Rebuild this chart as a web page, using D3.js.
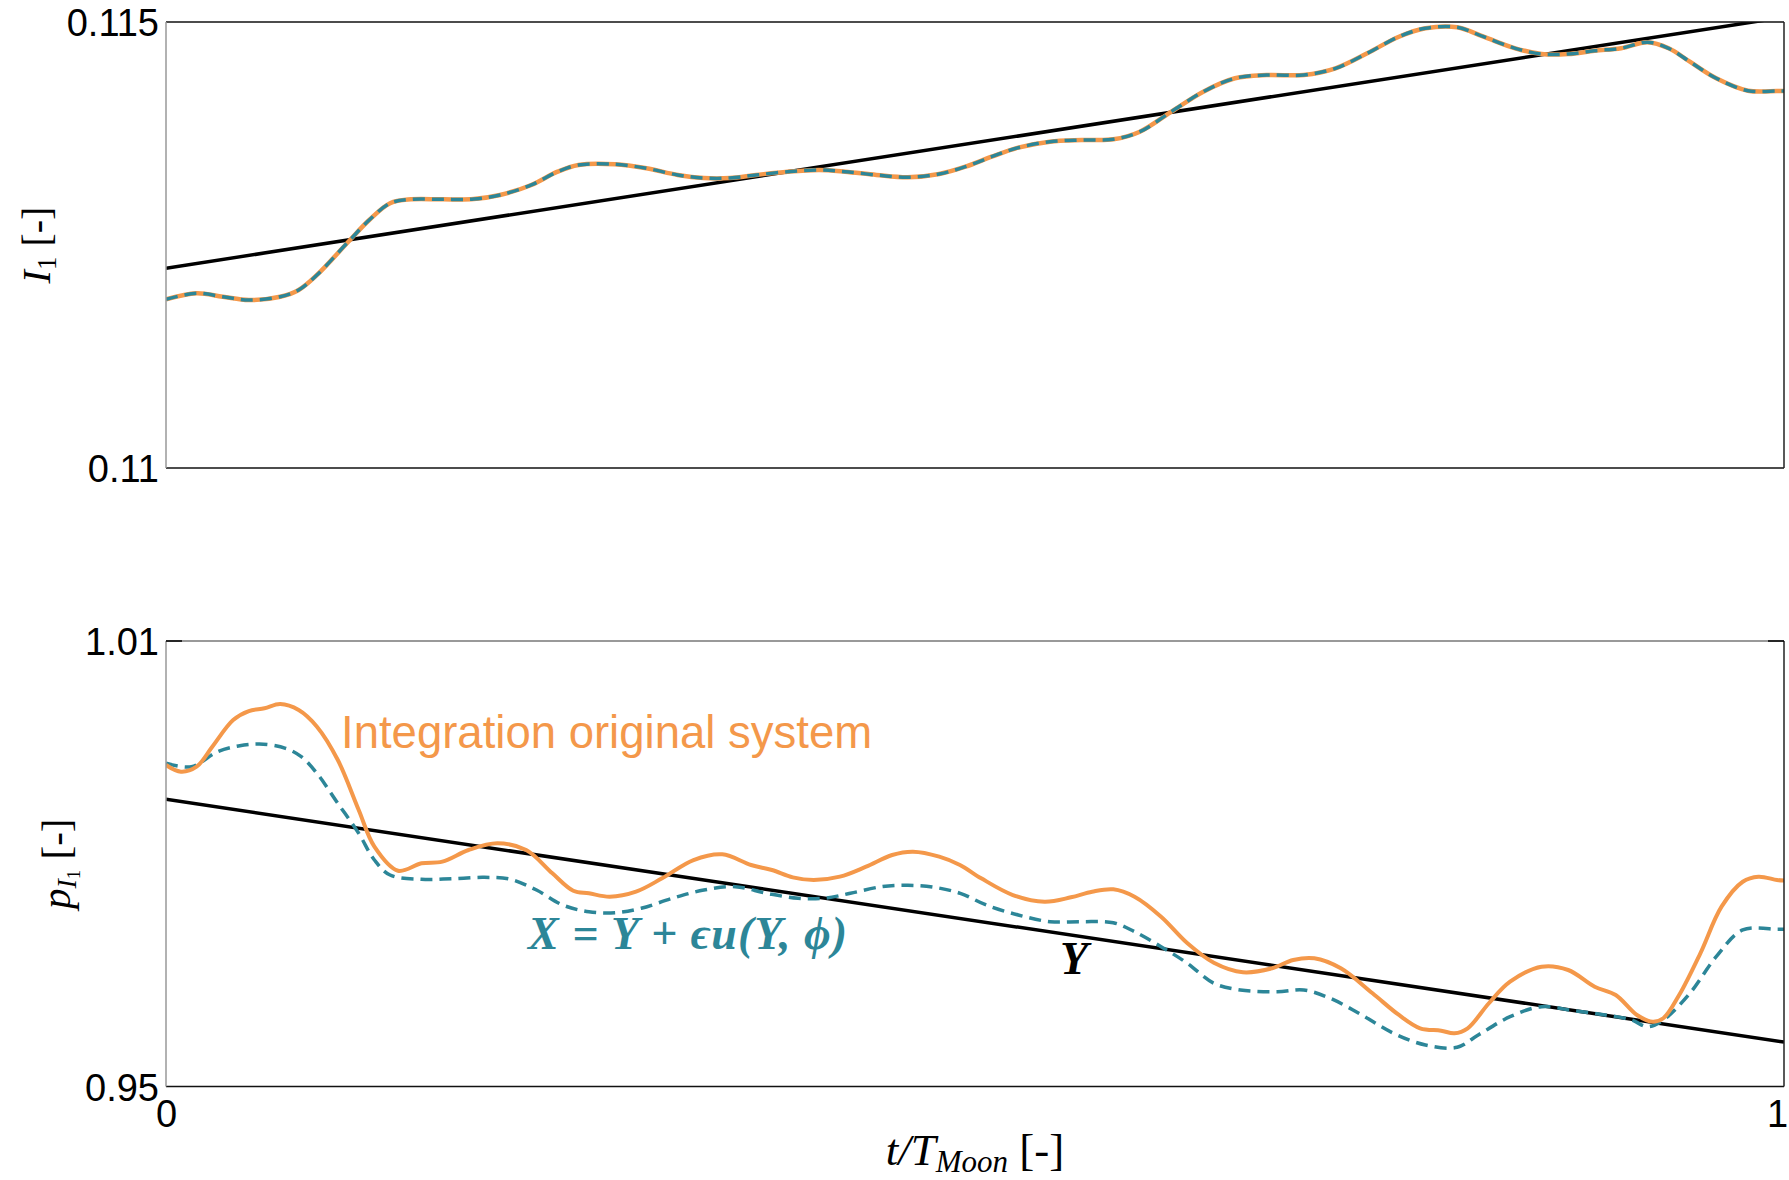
<!DOCTYPE html>
<html>
<head>
<meta charset="utf-8">
<script src="https://cdn.jsdelivr.net/npm/d3@7"></script>
<style>
  html, body { margin: 0; padding: 0; background: #fff; }
  svg { display: block; }
</style>
</head>
<body>
<svg id="chart" width="1789" height="1180"></svg>
<script>
// ---------------- DATA ----------------
// x values: t / T_Moon
const xTicks = [0, 1];
const xTickLabels = ["0", "1"];

// Top panel: I_1
const topYTicks = [0.11, 0.115];
const topYTickLabels = ["0.11", "0.115"];
const topYLine_t = [0, 1];
const topYLine_v = [0.112239, 0.115054];
// Integration original system and X = Y + eps u(Y,phi) coincide in the top panel
const topX_t = [0, 0.0189, 0.0351, 0.0512, 0.0706, 0.0820, 0.0933, 0.1127, 0.1256, 0.1385, 0.1514, 0.1708,
  0.1902, 0.2064, 0.2258, 0.2420, 0.2549, 0.2775, 0.2969, 0.3163, 0.3324, 0.3486, 0.3648, 0.3842, 0.4036,
  0.4197, 0.4391, 0.4585, 0.4779, 0.4941, 0.5103, 0.5267, 0.5463, 0.5659, 0.5855, 0.6019, 0.6214, 0.6411,
  0.6607, 0.6803, 0.7032, 0.7228, 0.7424, 0.7620, 0.7784, 0.7980, 0.8143, 0.8339, 0.8502, 0.8666, 0.8829,
  0.8993, 0.9156, 0.9287, 0.9418, 0.9581, 0.9777, 0.9957, 1.0];
const topX_v = [0.111891, 0.111959, 0.111920, 0.111883, 0.111920, 0.111996, 0.112164, 0.112537, 0.112780,
  0.112968, 0.113012, 0.113012, 0.113016, 0.113061, 0.113173, 0.113322, 0.113397, 0.113405, 0.113360,
  0.113285, 0.113251, 0.113251, 0.113285, 0.113322, 0.113341, 0.113322, 0.113285, 0.113259, 0.113296,
  0.113378, 0.113490, 0.113591, 0.113658, 0.113677, 0.113685, 0.113770, 0.113995, 0.114219, 0.114369,
  0.114406, 0.114406, 0.114481, 0.114649, 0.114835, 0.114930, 0.114941, 0.114835, 0.114705, 0.114641,
  0.114641, 0.114678, 0.114705, 0.114773, 0.114705, 0.114555, 0.114369, 0.114230, 0.114227, 0.114227];

// Bottom panel: p_{I_1}
const botYTicks = [0.95, 1.01];
const botYTickLabels = ["0.95", "1.01"];
const botYLine_t = [0, 1];
const botYLine_v = [0.98868, 0.95598];

const botOrange_t = [0, 0.0092, 0.0189, 0.0286, 0.0415, 0.0512, 0.0609, 0.0706, 0.0820, 0.0933, 0.1062,
  0.1191, 0.1288, 0.1434, 0.1579, 0.1708, 0.1870, 0.2048, 0.2226, 0.2388, 0.2517, 0.2614, 0.2743, 0.2905,
  0.3066, 0.3260, 0.3438, 0.3616, 0.3745, 0.3874, 0.4003, 0.4165, 0.4327, 0.4488, 0.4617, 0.4779, 0.4907,
  0.5038, 0.5234, 0.5430, 0.5593, 0.5724, 0.5855, 0.5986, 0.6150, 0.6313, 0.6476, 0.6656, 0.6836, 0.6967,
  0.7097, 0.7261, 0.7457, 0.7620, 0.7751, 0.7881, 0.7963, 0.8045, 0.8176, 0.8307, 0.8502, 0.8666, 0.8830,
  0.8960, 0.9091, 0.9189, 0.9254, 0.9352, 0.9483, 0.9614, 0.9745, 0.9842, 0.9957, 1.0];
const botOrange_v = [0.99330, 0.99240, 0.99307, 0.99576, 0.99936, 1.00057, 1.00094, 1.00151, 1.00071,
  0.99846, 0.99397, 0.98724, 0.98230, 0.97906, 0.98006, 0.98028, 0.98185, 0.98275, 0.98185, 0.97871,
  0.97637, 0.97602, 0.97556, 0.97624, 0.97804, 0.98050, 0.98127, 0.97983, 0.97916, 0.97817, 0.97781,
  0.97826, 0.97960, 0.98118, 0.98162, 0.98095, 0.97983, 0.97804, 0.97579, 0.97489, 0.97548, 0.97624,
  0.97656, 0.97556, 0.97287, 0.96929, 0.96667, 0.96538, 0.96592, 0.96704, 0.96727, 0.96592, 0.96255,
  0.95963, 0.95784, 0.95752, 0.95716, 0.95784, 0.96121, 0.96411, 0.96613, 0.96569, 0.96344, 0.96232,
  0.95963, 0.95873, 0.95919, 0.96232, 0.96794, 0.97422, 0.97758, 0.97826, 0.97781, 0.97775];

const botTeal_t = [0, 0.0157, 0.0318, 0.0448, 0.0577, 0.0739, 0.0836, 0.0933, 0.1062, 0.1191, 0.1288,
  0.1385, 0.1579, 0.1773, 0.1967, 0.2129, 0.2290, 0.2452, 0.2614, 0.2775, 0.2937, 0.3130, 0.3324, 0.3519,
  0.3713, 0.3906, 0.4068, 0.4230, 0.4423, 0.4585, 0.4747, 0.4909, 0.5070, 0.5267, 0.5463, 0.5659, 0.5855,
  0.5986, 0.6150, 0.6313, 0.6476, 0.6640, 0.6868, 0.7032, 0.7195, 0.7391, 0.7587, 0.7784, 0.7980, 0.8110,
  0.8307, 0.8502, 0.8698, 0.8894, 0.9058, 0.9156, 0.9254, 0.9418, 0.9581, 0.9745, 0.9957, 1.0];
const botTeal_v = [0.99353, 0.99307, 0.99509, 0.99586, 0.99613, 0.99555, 0.99442, 0.99218, 0.98814,
  0.98410, 0.98050, 0.97848, 0.97791, 0.97799, 0.97817, 0.97791, 0.97646, 0.97444, 0.97354, 0.97341,
  0.97400, 0.97535, 0.97646, 0.97691, 0.97602, 0.97535, 0.97535, 0.97602, 0.97691, 0.97710, 0.97683,
  0.97602, 0.97444, 0.97310, 0.97220, 0.97220, 0.97206, 0.97085, 0.96883, 0.96659, 0.96390, 0.96300,
  0.96277, 0.96300, 0.96188, 0.95963, 0.95716, 0.95559, 0.95528, 0.95694, 0.95940, 0.96075, 0.96021,
  0.95963, 0.95896, 0.95805, 0.95896, 0.96255, 0.96748, 0.97108, 0.97117, 0.97117];

// ---------------- STYLE / LAYOUT ----------------
const ORANGE = "#F4984A";
const TEAL = "#2C8698";
const left = 166, right = 1784;
const topPanel = { y0: 22, y1: 468 };
const botPanel = { y0: 641, y1: 1086.5 };

const svg = d3.select("#chart");
const x = d3.scaleLinear().domain([0, 1]).range([left, right]);
const yTop = d3.scaleLinear().domain([0.11, 0.115]).range([topPanel.y1, topPanel.y0]);
const yBot = d3.scaleLinear().domain([0.95, 1.01]).range([botPanel.y1, botPanel.y0]);

const zip = (ts, vs) => ts.map((t, i) => [t, vs[i]]);

const defs = svg.append("defs");
function clip(id, p) {
  defs.append("clipPath").attr("id", id).append("rect")
    .attr("x", left).attr("y", p.y0).attr("width", right - left).attr("height", p.y1 - p.y0);
}
clip("clipTop", topPanel);
clip("clipBot", botPanel);

function drawPanel(p, y, clipId, series, yTicks, yLabels, spineTopColor) {
  const g = svg.append("g");
  const line = d3.line().x(d => x(d[0])).y(d => y(d[1])).curve(d3.curveCatmullRom.alpha(0.5));
  const plot = g.append("g").attr("clip-path", `url(#${clipId})`);
  series.forEach(s => {
    plot.append("path").datum(s.data)
      .attr("d", line).attr("fill", "none")
      .attr("stroke", s.color).attr("stroke-width", s.width)
      .attr("stroke-dasharray", s.dash || null)
      .attr("stroke-linejoin", "round").attr("stroke-linecap", "butt");
  });
  // spines
  g.append("line").attr("x1", left).attr("x2", right).attr("y1", p.y0).attr("y2", p.y0)
    .attr("stroke", spineTopColor).attr("stroke-width", 1.5);
  g.append("line").attr("x1", left).attr("x2", right).attr("y1", p.y1).attr("y2", p.y1)
    .attr("stroke", "#111").attr("stroke-width", 1.5);
  g.append("line").attr("x1", right).attr("x2", right).attr("y1", p.y0).attr("y2", p.y1)
    .attr("stroke", "#222").attr("stroke-width", 1.5);
  g.append("line").attr("x1", left).attr("x2", left).attr("y1", p.y0).attr("y2", p.y1)
    .attr("stroke", "#999").attr("stroke-width", 1.5);
  // y tick labels (axis generator, no tick lines)
  const ax = d3.axisLeft(y).tickValues(yTicks).tickFormat((d, i) => yLabels[i]).tickSize(0).tickPadding(7);
  const ag = g.append("g").attr("transform", `translate(${left},0)`).call(ax);
  ag.select(".domain").remove();
  ag.selectAll("text").attr("font-family", "Liberation Sans, Arial, sans-serif")
    .attr("font-size", 38).attr("fill", "#000").attr("dy", "0.36em");
  return g;
}

drawPanel(topPanel, yTop, "clipTop", [
  { data: zip(topYLine_t, topYLine_v), color: "#000", width: 3.5 },
  { data: zip(topX_t, topX_v), color: ORANGE, width: 4.5 },
  { data: zip(topX_t, topX_v), color: TEAL, width: 3.5, dash: "12,7" }
], topYTicks, topYTickLabels, "#111");

const bg = drawPanel(botPanel, yBot, "clipBot", [
  { data: zip(botYLine_t, botYLine_v), color: "#000", width: 3.5 },
  { data: zip(botTeal_t, botTeal_v), color: TEAL, width: 3.5, dash: "12,7" },
  { data: zip(botOrange_t, botOrange_v), color: ORANGE, width: 4 }
], botYTicks, botYTickLabels, "#777");

// small ticks on the top spine of the bottom panel
xTicks.forEach(t => {
  const dir = t === 0 ? 1 : -1;
  bg.append("line").attr("x1", x(t)).attr("x2", x(t) + dir * 16)
    .attr("y1", botPanel.y0).attr("y2", botPanel.y0).attr("stroke", "#000").attr("stroke-width", 1.5);
});

// x axis tick labels
const xa = d3.axisBottom(x).tickValues(xTicks).tickFormat((d, i) => xTickLabels[i]).tickSize(0).tickPadding(14);
const xg = svg.append("g").attr("transform", `translate(0,${botPanel.y1})`).call(xa);
xg.select(".domain").remove();
xg.selectAll("text").attr("font-family", "Liberation Sans, Arial, sans-serif")
  .attr("font-size", 38).attr("fill", "#000")
  .attr("dx", (d, i) => i === xTicks.length - 1 ? -7 : 0);

// axis labels
const serif = "Liberation Serif, DejaVu Serif, serif";
const xl = svg.append("text").attr("x", (left + right) / 2).attr("y", 1165)
  .attr("text-anchor", "middle").attr("font-family", serif).attr("font-size", 45).attr("fill", "#000");
xl.append("tspan").attr("font-style", "italic").text("t/T");
xl.append("tspan").attr("font-style", "italic").attr("font-size", 31).attr("dy", 7).text("Moon");
xl.append("tspan").attr("dy", -7).text(" [-]");

const yl1 = svg.append("text").attr("transform", `translate(50,${(topPanel.y0 + topPanel.y1) / 2}) rotate(-90)`)
  .attr("text-anchor", "middle").attr("font-family", serif).attr("font-size", 40).attr("fill", "#000");
yl1.append("tspan").attr("font-style", "italic").text("I");
yl1.append("tspan").attr("font-size", 27).attr("dy", 6).text("1");
yl1.append("tspan").attr("dy", -6).text(" [-]");

const yl2 = svg.append("text").attr("transform", `translate(70,${(botPanel.y0 + botPanel.y1) / 2}) rotate(-90)`)
  .attr("text-anchor", "middle").attr("font-family", serif).attr("font-size", 41).attr("fill", "#000");
yl2.append("tspan").attr("font-style", "italic").text("p");
yl2.append("tspan").attr("font-style", "italic").attr("font-size", 28).attr("dy", 6).text("I");
yl2.append("tspan").attr("font-size", 19).attr("dy", 4).text("1");
yl2.append("tspan").attr("dy", -10).text(" [-]");

// annotations
svg.append("text").attr("x", 341).attr("y", 748)
  .attr("font-family", "Liberation Sans, Arial, sans-serif").attr("font-size", 45.5)
  .attr("fill", ORANGE).text("Integration original system");

const eq = svg.append("text").attr("x", 528).attr("y", 949)
  .attr("font-family", serif).attr("font-size", 46).attr("font-weight", "bold")
  .attr("font-style", "italic").attr("fill", TEAL)
  .attr("textLength", 319).attr("lengthAdjust", "spacing");
eq.text("X = Y + \u03F5u(Y, \u03D5)");

svg.append("text").attr("x", 1060).attr("y", 974)
  .attr("font-family", serif).attr("font-size", 46).attr("font-weight", "bold")
  .attr("font-style", "italic").attr("fill", "#000").text("Y");
</script>
</body>
</html>
